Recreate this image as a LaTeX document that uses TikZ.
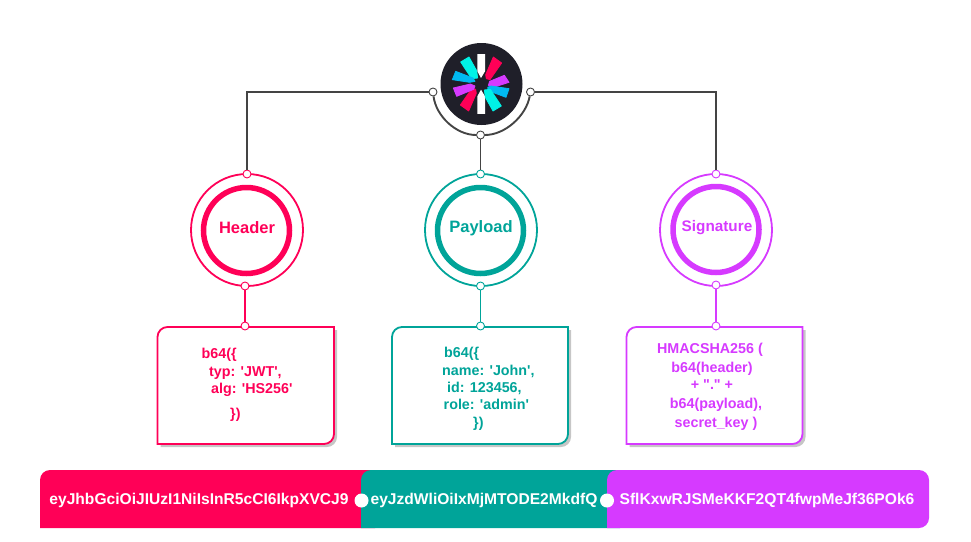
\documentclass[tikz,border=0pt]{standalone}
\usepackage{fontspec}
\setmainfont{Liberation Sans}
\definecolor{jred}{HTML}{FF0057}
\definecolor{jteal}{HTML}{00A499}
\definecolor{jpurple}{HTML}{D63AFF}
\definecolor{jdark}{HTML}{1F1F29}
\definecolor{jline}{HTML}{444444}
\definecolor{jaqua}{HTML}{00F2E6}
\definecolor{jblue}{HTML}{00B9F1}
\tikzset{
  dotnode/.style={circle,draw=#1,fill=white,line width=0.9pt,minimum size=8pt,inner sep=0pt},
  ringout/.style={circle,draw=#1,line width=1.8pt,minimum size=112pt,inner sep=0pt},
  ringin/.style={circle,draw=#1,line width=5.5pt,minimum size=86pt,inner sep=0pt},
  ringtext/.style={text=#1,inner sep=0pt,font=\bfseries\fontsize{16.5}{18}\selectfont},
  linkline/.style={draw=#1,line width=1.9pt},
  graphline/.style={draw=jline,line width=1.9pt},
  logoray/.style={fill=#1,draw=#1,line width=0.8pt,line join=round},
  codeline/.style={text=#1,anchor=base west,inner sep=0pt,font=\bfseries\fontsize{14.3}{16}\selectfont},
  codemid/.style={text=#1,anchor=base,inner sep=0pt,font=\bfseries\fontsize{14.3}{16}\selectfont},
  bartext/.style={text=white,anchor=base,inner sep=0pt,font=\bfseries\fontsize{15.6}{18}\selectfont},
  bardot/.style={circle,fill=white,minimum size=14pt,inner sep=0pt},
}
\newcommand{\jwtbox}[3]{% left, right, colour
  \fill[gray!45] (#1+3,447) [rounded corners=10pt] -- (#1+3,330) [sharp corners] -- (#2+3,330) [rounded corners=10pt] -- (#2+3,447) [sharp corners] -- cycle;
  \draw[draw=#3,fill=white,line width=1.8pt] (#1,444) [rounded corners=10pt] -- (#1,327) [sharp corners] -- (#2,327) [rounded corners=10pt] -- (#2,444) [sharp corners] -- cycle;
}
\newcommand{\sq}{\textquotesingle}
\begin{document}
\begin{tikzpicture}[x=1pt,y=-1pt]
\useasboundingbox (0,0) rectangle (971,541);
% logo
\node[circle,fill=jdark,minimum size=82pt,inner sep=0pt] (logo) at (481.5,84) {};
\begin{scope}[shift={(445,48)},x=0.3333pt,y=-0.3333pt]
\fill[white] (97,18) -- (120,18) -- (120,70) -- (108,90) -- (97,70) -- cycle;
\fill[white] (97,198) -- (120,198) -- (120,145) -- (108,125) -- (97,145) -- cycle;
\path[logoray=jaqua] (47,42) -- (72,27) -- (95,68) -- (98,90) -- (80,92) -- cycle;
\path[logoray=jred] (145,27) -- (170,45) -- (135,95) -- (124,92) -- (122,80) -- cycle;
\path[logoray=jpurple] (178,82) -- (192,103) -- (145,118) -- (130,112) -- (134,100) -- cycle;
\path[logoray=jblue] (138,114) -- (192,122) -- (183,148) -- (130,128) -- (128,118) -- cycle;
\path[logoray=jaqua] (169,174) -- (144,189) -- (121,148) -- (118,126) -- (136,124) -- cycle;
\path[logoray=jred] (71,189) -- (46,171) -- (81,121) -- (92,124) -- (94,136) -- cycle;
\path[logoray=jpurple] (25,120) -- (76,108) -- (90,114) -- (86,124) -- (35,145) -- cycle;
\path[logoray=jblue] (32,70) -- (84,90) -- (90,100) -- (74,103) -- (22,95) -- cycle;
\fill[jdark] (108,108) circle (10);
\end{scope}
% rings
\node[ringout=jred] (hout) at (247,230) {};
\node[ringin=jred] (hin) at (246.5,230.5) {};
\node[ringtext=jred] (htxt) at (247,228) {Header};
\node[ringout=jteal] (pout) at (481,230) {};
\node[ringin=jteal] (pin) at (480.5,230.5) {};
\node[ringtext=jteal] (ptxt) at (481,228) {Payload};
\node[ringout=jpurple] (sout) at (716,230) {};
\node[ringin=jpurple] (sin) at (716,229.5) {};
\node[ringtext=jpurple,font=\bfseries\fontsize{15.3}{18}\selectfont] (stxt) at (717,228) {Signature};
% boxes
\jwtbox{157.5}{334}{jred}
\jwtbox{392}{568}{jteal}
\jwtbox{626.5}{802.5}{jpurple}
% dots
\node[dotnode=jline] (lft) at (433,92) {};
\node[dotnode=jline] (rgt) at (530.5,92) {};
\node[dotnode=jline] (bot) at (480.5,135) {};
\coordinate (lcorner) at (247,92);
\coordinate (rcorner) at (716,92);
\node[dotnode=jred] (h1) at (247,174) {};
\node[dotnode=jred] (h2) at (245,286) {};
\node[dotnode=jred] (h3) at (245,326) {};
\node[dotnode=jteal] (p1) at (480.5,174) {};
\node[dotnode=jteal] (p2) at (480.5,286) {};
\node[dotnode=jteal] (p3) at (480.5,326) {};
\node[dotnode=jpurple] (s1) at (716,174) {};
\node[dotnode=jpurple] (s2) at (716,285) {};
\node[dotnode=jpurple] (s3) at (716,326) {};
% connectors
\draw[graphline] (lft) -- (lcorner) -- (h1);
\draw[graphline] (rgt) -- (rcorner) -- (s1);
\draw[graphline] (bot) -- (p1);
\draw[graphline] (lft) .. controls (436,116) and (456,135) .. (bot);
\draw[graphline] (bot) .. controls (505,135) and (526,116) .. (rgt);
\draw[linkline=jred] (h2) -- (h3);
\draw[linkline=jteal] (p2) -- (p3);
\draw[linkline=jpurple] (s2) -- (s3);
% box text
\node[codeline=jred] (ha) at (201.5,358) {b64(\{};
\node[codeline=jred] (hb) at (209,376) {typ: \sq JWT\sq,};
\node[codeline=jred] (hc) at (211,393) {alg: \sq HS256\sq};
\node[codeline=jred] (hd) at (230,418) {\})};
\node[codeline=jteal] (pa) at (444,357) {b64(\{};
\node[codeline=jteal] (pb) at (442,375) {name: \sq John\sq,};
\node[codeline=jteal] (pc) at (447,392) {id: 123456,};
\node[codeline=jteal] (pd) at (443.5,409) {role: \sq admin\sq};
\node[codeline=jteal] (pe) at (473,427) {\})};
\node[codemid=jpurple] (sa) at (710,353) {HMACSHA256 (};
\node[codemid=jpurple] (sb) at (712,372) {b64(header)};
\node[codemid=jpurple] (sc) at (712,389) {+ \textquotedbl.\textquotedbl\ +};
\node[codemid=jpurple] (sd) at (716,408) {b64(payload),};
\node[codemid=jpurple] (se) at (716,427) {secret\_key )};
% token bar
\fill[jred] (40,528) [rounded corners=10pt] -- (40,470) [sharp corners] -- (375,470) -- (375,528) -- cycle;
\fill[jteal] (361,528) [rounded corners=10pt] -- (361,470) [sharp corners] -- (620,470) -- (620,528) -- cycle;
\fill[jpurple] (607,528) [rounded corners=10pt] -- (607,470) -- (929,470) -- (929,528) [sharp corners] -- cycle;
\node[bartext] (ta) at (199,504) {eyJhbGciOiJIUzI1NiIsInR5cCI6IkpXVCJ9};
\node[bartext] (tb) at (484,504) {eyJzdWliOiIxMjMTODE2MkdfQ};
\node[bartext] (tc) at (767,504) {SflKxwRJSMeKKF2QT4fwpMeJf36POk6};
\node[bardot] (da) at (361.5,500.5) {};
\node[bardot] (db) at (607,500.5) {};
\end{tikzpicture}
\end{document}
